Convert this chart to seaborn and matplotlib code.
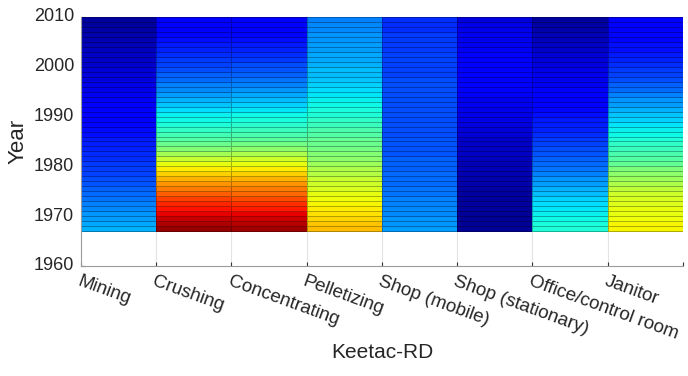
import numpy as np
import pandas as pd
import matplotlib
matplotlib.use("Agg")
import matplotlib.pyplot as plt
import seaborn as sns

# Exposure index by department and year (Keetac-RD), 1967-2009
years = list(range(1967, 2010))
departments = ["Mining", "Crushing", "Concentrating", "Pelletizing",
               "Shop (mobile)", "Shop (stationary)", "Office/control room", "Janitor"]

mining = [0.30, 0.29, 0.28, 0.27, 0.26, 0.25, 0.24, 0.23, 0.22, 0.21,
          0.20, 0.19, 0.185, 0.18, 0.17, 0.165, 0.16, 0.155, 0.15, 0.14,
          0.135, 0.13, 0.125, 0.12, 0.115, 0.11, 0.105, 0.10, 0.095, 0.09,
          0.085, 0.08, 0.075, 0.07, 0.065, 0.06, 0.055, 0.05, 0.045, 0.04,
          0.035, 0.03, 0.03]
crushing = [0.98, 0.96, 0.94, 0.91, 0.89, 0.87, 0.84, 0.81, 0.78, 0.75,
            0.72, 0.69, 0.66, 0.63, 0.59, 0.55, 0.51, 0.48, 0.45, 0.43,
            0.41, 0.39, 0.37, 0.36, 0.34, 0.32, 0.30, 0.28, 0.26, 0.25,
            0.23, 0.22, 0.20, 0.19, 0.18, 0.17, 0.16, 0.15, 0.14, 0.13,
            0.12, 0.12, 0.11]
concentrating = [0.97, 0.95, 0.93, 0.91, 0.88, 0.86, 0.83, 0.80, 0.78, 0.75,
                 0.72, 0.69, 0.66, 0.63, 0.60, 0.56, 0.52, 0.49, 0.46, 0.44,
                 0.42, 0.40, 0.38, 0.37, 0.35, 0.33, 0.31, 0.29, 0.27, 0.25,
                 0.24, 0.22, 0.21, 0.20, 0.18, 0.17, 0.16, 0.15, 0.14, 0.13,
                 0.12, 0.12, 0.11]
pelletizing = [0.71, 0.70, 0.68, 0.67, 0.66, 0.65, 0.64, 0.63, 0.61, 0.60,
               0.59, 0.57, 0.56, 0.54, 0.52, 0.51, 0.49, 0.48, 0.47, 0.45,
               0.44, 0.42, 0.41, 0.39, 0.38, 0.37, 0.36, 0.35, 0.34, 0.33,
               0.32, 0.31, 0.31, 0.30, 0.29, 0.29, 0.28, 0.28, 0.27, 0.27,
               0.26, 0.26, 0.25]
shop_mobile = [0.28, 0.27, 0.27, 0.26, 0.26, 0.25, 0.25, 0.24, 0.24, 0.23,
               0.23, 0.23, 0.22, 0.22, 0.22, 0.21, 0.21, 0.21, 0.21, 0.20,
               0.20, 0.20, 0.20, 0.20, 0.20, 0.20, 0.20, 0.20, 0.20, 0.20,
               0.20, 0.19, 0.19, 0.19, 0.19, 0.19, 0.18, 0.18, 0.18, 0.18,
               0.17, 0.17, 0.17]
shop_stationary = [0.02, 0.02, 0.02, 0.02, 0.025, 0.03, 0.03, 0.03, 0.035, 0.04,
                   0.04, 0.045, 0.05, 0.05, 0.055, 0.06, 0.06, 0.065, 0.07, 0.075,
                   0.08, 0.085, 0.09, 0.09, 0.095, 0.10, 0.10, 0.105, 0.11, 0.11,
                   0.11, 0.11, 0.11, 0.11, 0.11, 0.11, 0.105, 0.10, 0.10, 0.10,
                   0.095, 0.09, 0.085]
office = [0.39, 0.38, 0.37, 0.36, 0.35, 0.34, 0.33, 0.31, 0.30, 0.28,
          0.27, 0.25, 0.24, 0.23, 0.22, 0.21, 0.20, 0.19, 0.18, 0.17,
          0.16, 0.155, 0.15, 0.14, 0.13, 0.125, 0.12, 0.115, 0.11, 0.10,
          0.10, 0.095, 0.09, 0.085, 0.08, 0.075, 0.07, 0.06, 0.055, 0.05,
          0.04, 0.035, 0.03]
janitor = [0.65, 0.65, 0.64, 0.63, 0.63, 0.62, 0.61, 0.60, 0.58, 0.56,
           0.54, 0.52, 0.50, 0.47, 0.45, 0.44, 0.42, 0.41, 0.39, 0.37,
           0.36, 0.35, 0.33, 0.32, 0.30, 0.28, 0.27, 0.25, 0.23, 0.22,
           0.20, 0.19, 0.18, 0.17, 0.16, 0.15, 0.14, 0.14, 0.13, 0.13,
           0.12, 0.12, 0.11]

year_ticks = [1960, 1970, 1980, 1990, 2000, 2010]

table = pd.DataFrame(
    np.column_stack([mining, crushing, concentrating, pelletizing,
                     shop_mobile, shop_stationary, office, janitor]),
    index=years, columns=departments)

sns.set_theme(style="white")
plt.rcParams["font.family"] = ["Liberation Sans", "DejaVu Sans"]

fig = plt.figure(figsize=(6.88, 3.76), dpi=100)
ax = fig.add_axes([0.1177, 0.2926, 0.8750, 0.6622])

ax.set_axisbelow(True)
sns.heatmap(table, ax=ax, cmap="jet", vmin=0, vmax=1, cbar=False,
            linewidths=0.4, linecolor=(0, 0, 0, 0.3))

# rows are laid out bottom-up from the first year; extend the axis to 1960
first = years[0]
ax.set_ylim(year_ticks[0] - first, year_ticks[-1] - first)
ax.set_yticks([y - first for y in year_ticks])
ax.set_yticklabels([str(y) for y in year_ticks], rotation=0, fontsize=13)

ax.set_xlim(0, len(departments))
ax.set_xticks(range(len(departments) + 1))
ax.set_xticklabels(departments + [""], rotation=-20, ha="left", va="top",
                   rotation_mode="anchor", fontsize=13.5)

ax.xaxis.grid(True, color="#e4e4e4", linewidth=0.8)
ax.tick_params(axis="both", direction="in", length=3, width=0.8,
               color="#333333", bottom=True, left=True, pad=5)

for side in ["top", "right"]:
    ax.spines[side].set_visible(False)
for side in ["left", "bottom"]:
    ax.spines[side].set_visible(True)
    ax.spines[side].set_color("#9a9a9a")
    ax.spines[side].set_linewidth(0.8)

ax.set_xlabel("Keetac-RD", fontsize=15, labelpad=0)
ax.set_ylabel("Year", fontsize=16, labelpad=4)

fig.savefig("out.png", dpi=100)
